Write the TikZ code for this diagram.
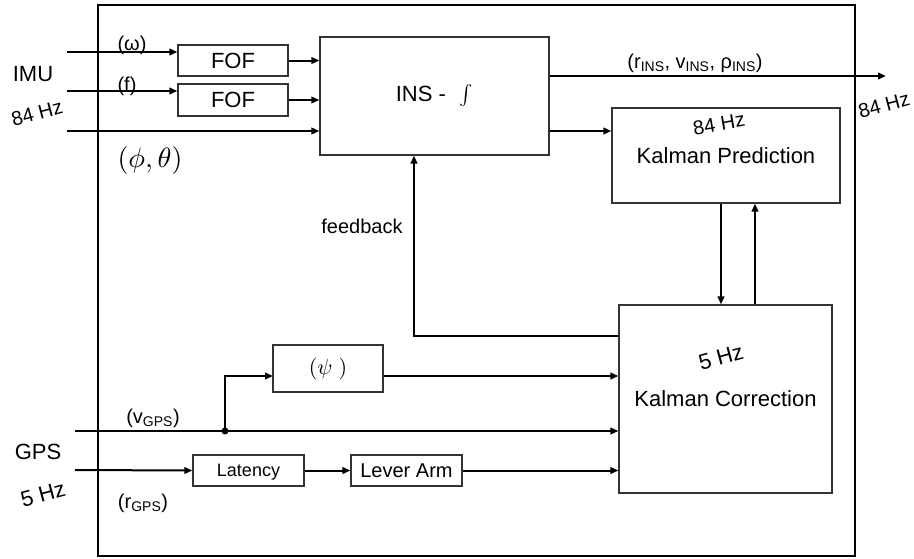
\documentclass[tikz,border=0pt]{standalone}
\usepackage{fontspec}
\setmainfont{Liberation Sans}
\usetikzlibrary{arrows.meta}
\newcommand{\bigmath}[2]{{\fontsize{10}{12}\selectfont\scalebox{#1}{$#2$}}}
\tikzset{
  blk/.style={draw=black!80,line width=1.1pt,inner sep=0pt,font=\fontsize{22}{24}\selectfont},
  sig/.style={line width=2pt,-{Triangle[length=8pt,width=6.5pt]}},
  wire/.style={line width=2pt},
  lbl/.style={inner sep=0pt,font=\fontsize{20}{22}\selectfont},
  big/.style={inner sep=0pt,font=\fontsize{22}{24}\selectfont},
}

\begin{document}
\begin{tikzpicture}[x=1pt,y=-1pt,line join=miter]
\path[use as bounding box] (0,0) rectangle (914,558);
% frame
\draw[line width=2.6pt] (98,5) rectangle (855,556);
% blocks
\node[blk,minimum width=110,minimum height=31] (fofw) at (233,60.5) {FOF};
\node[blk,minimum width=110,minimum height=32] (foff) at (233,100) {FOF};
\node[blk,minimum width=229,minimum height=118] (ins) at (434.5,96) {INS -\hspace{14pt}\bigmath{2}{\int}};
\node[blk,minimum width=228,minimum height=95] (kp) at (726,155.5) {Kalman Prediction};
\node[blk,minimum width=213,minimum height=188] (kc) at (725.5,399) {Kalman Correction};
\node[blk,minimum width=110,minimum height=47] (psi) at (328,368.5) {\bigmath{2.2}{(\psi\ )}};
\node[blk,minimum width=111,minimum height=31,text depth=0pt,font=\fontsize{18}{20}\selectfont] (lat) at (248.5,470.5) {Latency};
\node[blk,minimum width=111,minimum height=31,font=\fontsize{20}{22}\selectfont] (lev) at (406.5,470.5) {Lever Arm};
% free ends
\coordinate (wIn) at (67,52);
\coordinate (fIn) at (67,91);
\coordinate (phIn) at (67,131);
\coordinate (out) at (886,76);
\coordinate (fb) at (414,336);
\coordinate (dn) at (721,0);
\coordinate (up) at (755,0);
\coordinate (vIn) at (75,431);
\coordinate (rIn) at (75,470);
\coordinate (psiIn) at (273,376);
\node[circle,fill,inner sep=0pt,minimum size=7] (tap) at (225,431) {};
% IMU side
\draw[sig] (wIn) -- (wIn -| fofw.west);
\draw[sig] (fIn) -- (fIn -| foff.west);
\draw[sig] (phIn) -- (phIn -| ins.west);
\draw[sig] (fofw.east) -- (fofw.east -| ins.west);
\draw[sig] (foff.east) -- (foff.east -| ins.west);
\draw[sig] (out -| ins.east) -- (out);
\draw[sig] (phIn -| ins.east) -- (phIn -| kp.west);
% Kalman loop
\draw[sig] (dn |- kp.south) -- (dn |- kc.north);
\draw[sig] (up |- kc.north) -- (up |- kp.south);
\draw[sig] (fb -| kc.west) -- (fb) -- (fb |- ins.south);
% GPS side
\draw[sig] (vIn) -- (vIn -| kc.west);
\draw[sig] (tap.center) |- (psiIn);
\draw[sig] (psiIn -| psi.east) -- (psiIn -| kc.west);
\draw[sig] (rIn) -- (lat.west);
\draw[sig] (lat.east) -- (lev.west);
\draw[sig] (lev.east) -- (lev.east -| kc.west);
% labels
\node[big] (imu) at (33,74) {IMU};
\node[lbl,rotate=15] (imuHz) at (37,113) {84 Hz};
\node[lbl] (wLbl) at (132,45) {(ω)};
\node[lbl] (fLbl) at (127,86) {(f)};
\node[inner sep=0pt] (phLbl) at (150,160) {\bigmath{2.8}{(\phi,\theta)}};
\node[lbl] (outLbl) at (695,63) {(r\textsubscript{INS}, v\textsubscript{INS}, ρ\textsubscript{INS})};
\node[lbl,rotate=15] (outHz) at (884,105) {84 Hz};
\node[lbl,rotate=10] (kpHz) at (719,124) {84 Hz};
\node[lbl] (fbLbl) at (362,226) {feedback};
\node[big,rotate=15] (kcHz) at (721,357) {5 Hz};
\node[lbl] (vLbl) at (153,418) {(v\textsubscript{GPS})};
\node[big] (gps) at (38,452) {GPS};
\node[big,rotate=15] (gpsHz) at (43,494) {5 Hz};
\node[lbl] (rLbl) at (143,503) {(r\textsubscript{GPS})};
\end{tikzpicture}
\end{document}
